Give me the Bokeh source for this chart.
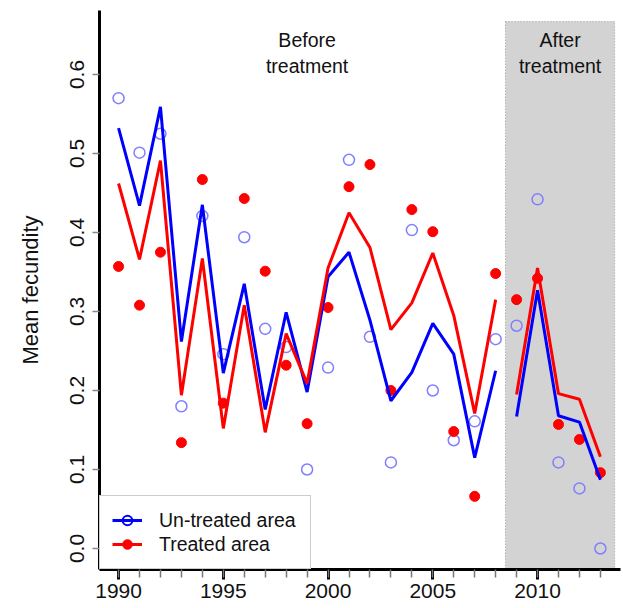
from bokeh.plotting import figure
from bokeh.models import (Range1d, FixedTicker, Legend, LegendItem, Label,
                          PrintfTickFormatter)
from bokeh.embed import file_html
from bokeh.resources import INLINE

# ---------------- data ----------------
years = list(range(1990, 2014))
untreated_obs = [0.570, 0.501, 0.525, 0.180, 0.421, 0.246, 0.394, 0.278, 0.255, 0.100,
                 0.229, 0.492, 0.268, 0.109, 0.403, 0.200, 0.137, 0.161, 0.265, 0.282,
                 0.442, 0.109, 0.076, 0.000]
treated_obs = [0.357, 0.308, 0.375, 0.134, 0.467, 0.184, 0.443, 0.351, 0.232, 0.158,
               0.305, 0.458, 0.486, 0.200, 0.429, 0.401, 0.148, 0.066, 0.348, 0.315,
               0.342, 0.157, 0.138, 0.096]
untreated_fit = [0.532, 0.434, 0.559, 0.262, 0.435, 0.222, 0.335, 0.176, 0.299, 0.198,
                 0.344, 0.375, 0.289, 0.187, 0.223, 0.285, 0.246, 0.115, 0.225, 0.167,
                 0.327, 0.168, 0.160, 0.087]
treated_fit = [0.462, 0.366, 0.491, 0.194, 0.367, 0.152, 0.308, 0.147, 0.272, 0.209,
               0.355, 0.425, 0.381, 0.277, 0.311, 0.374, 0.295, 0.171, 0.315, 0.195,
               0.355, 0.196, 0.189, 0.116]
treatment_start = 2009
x_tick_years = [1990, 1995, 2000, 2005, 2010]
y_ticks = [0.0, 0.1, 0.2, 0.3, 0.4, 0.5, 0.6]
series_names = ["Un-treated area", "Treated area"]
period_labels = ["Before\ntreatment", "After\ntreatment"]

FONT = "Liberation Sans"
BLUE = "#0000ff"
RED = "#ff0000"
LIGHT_BLUE = "#7f7fff"
NAN = float("nan")

p = figure(width=623, height=608, output_backend="svg", toolbar_location=None,
           x_range=Range1d(1989.09, 2013.96), y_range=Range1d(-0.0266, 0.681),
           min_border_left=99, min_border_right=3, min_border_top=10,
           min_border_bottom=39)
p.outline_line_color = None
p.grid.visible = False
p.background_fill_color = "white"
p.border_fill_color = "white"

# shaded "after treatment" period
shade_left = treatment_start - 0.53
shade_right = years[-1] + 0.68
p.quad(left=[shade_left], right=[shade_right], bottom=[-0.2], top=[0.667],
       fill_color="#d3d3d3", line_color="#9a9a9a", line_dash="1 2", line_width=1)

# observations
p.scatter(years, untreated_obs, marker="circle", size=11, fill_color=None,
          line_color=LIGHT_BLUE, line_width=1.5)
p.scatter(years, treated_obs, marker="circle", size=10, fill_color=RED,
          line_color=RED)

# fitted lines, one segment per period
cut = years.index(treatment_start)
for sl in (slice(0, cut), slice(cut, len(years))):
    p.line(years[sl], untreated_fit[sl], line_color=BLUE, line_width=3)
    p.line(years[sl], treated_fit[sl], line_color=RED, line_width=3)

# period labels
p.add_layout(Label(x=(years[0] + treatment_start - 1) / 2, y=0.658, text=period_labels[0],
                   text_align="center", text_baseline="top", text_font=FONT,
                   text_font_size="19.5px", text_color="#111111", text_line_height=1.2))
p.add_layout(Label(x=(shade_left + shade_right) / 2, y=0.658, text=period_labels[1],
                   text_align="center", text_baseline="top", text_font=FONT,
                   text_font_size="19.5px", text_color="#111111", text_line_height=1.2))

# legend (proxy renderers holding a single undrawable NaN point)
lb_line = p.line(x=[NAN], y=[NAN], line_color=BLUE, line_width=3)
lb_pt = p.scatter(x=[NAN], y=[NAN], marker="circle", fill_color=None, line_color=BLUE,
                  line_width=2)
lr_line = p.line(x=[NAN], y=[NAN], line_color=RED, line_width=3)
lr_pt = p.scatter(x=[NAN], y=[NAN], marker="circle", fill_color=RED, line_color=RED)
legend = Legend(items=[LegendItem(label=series_names[0], renderers=[lb_line, lb_pt]),
                       LegendItem(label=series_names[1], renderers=[lr_line, lr_pt])],
                location=(0, 0), margin=0, padding=12, spacing=0,
                glyph_width=30, glyph_height=24, label_height=24, label_width=139,
                label_standoff=17, label_text_font=FONT, label_text_font_size="19.5px",
                label_text_color="#111111",
                border_line_color="#9a9a9a", border_line_width=1,
                background_fill_color="white", background_fill_alpha=1.0)
p.add_layout(legend)

# axes
for ax in (p.xaxis[0], p.yaxis[0]):
    ax.axis_line_color = "black"
    ax.axis_line_width = 3
    ax.major_label_text_font = FONT
    ax.major_label_text_font_size = "21px"
    ax.major_label_text_color = "#111111"
    ax.major_tick_in = 0

p.xaxis.ticker = FixedTicker(ticks=x_tick_years, minor_ticks=years)
p.xaxis.formatter = PrintfTickFormatter(format="%d")
p.xaxis.major_tick_line_color = "black"
p.xaxis.major_tick_line_width = 3
p.xaxis.major_tick_out = 10
p.xaxis.minor_tick_line_color = "#777777"
p.xaxis.minor_tick_line_width = 1.5
p.xaxis.minor_tick_out = 8
p.xaxis.minor_tick_in = 0
p.xaxis.major_label_standoff = 4

p.yaxis.ticker = FixedTicker(ticks=y_ticks)
p.yaxis.formatter = PrintfTickFormatter(format="%.1f")
p.yaxis.major_tick_line_color = "#888888"
p.yaxis.major_tick_line_width = 1.5
p.yaxis.major_tick_out = 7
p.yaxis.minor_tick_line_color = None
p.yaxis.major_label_orientation = "vertical"
p.yaxis.major_label_standoff = 8
p.yaxis.axis_label = "Mean fecundity"
p.yaxis.axis_label_text_font = FONT
p.yaxis.axis_label_text_font_size = "22px"
p.yaxis.axis_label_text_font_style = "normal"
p.yaxis.axis_label_text_color = "#111111"
p.yaxis.axis_label_standoff = 25

open("out.html", "w").write(file_html(p, INLINE))
